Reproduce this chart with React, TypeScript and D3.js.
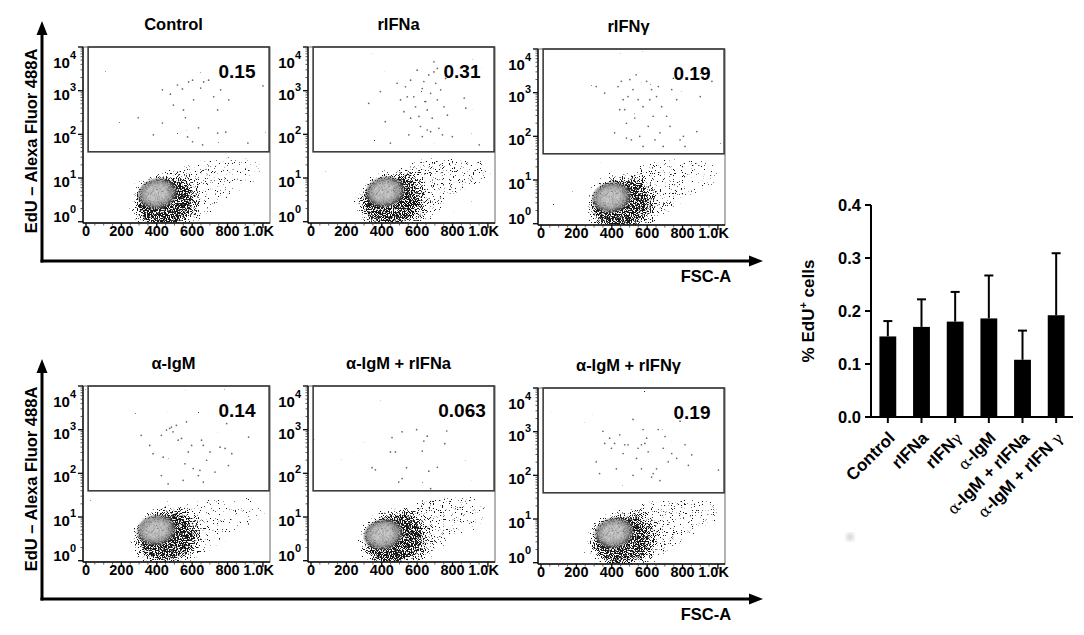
import React from 'react';
import * as d3 from 'd3';

// ---- flow panels ----
const panelTitles = ['Control', 'rIFNa', 'rIFNγ', 'α-IgM', 'α-IgM + rIFNa', 'α-IgM + rIFNγ'];
const gatePercents = ['0.15', '0.31', '0.19', '0.14', '0.063', '0.19'];
const fscTicks = [0, 200, 400, 600, 800, 1000];
const fscTickLabels = ['0', '200', '400', '600', '800', '1.0K'];
const decades = [0, 1, 2, 3, 4];

// gated (EdU+) events, [FSC-A, log10 EdU]
const gatedControl: [number, number][] = [
  [295, 2.38], [381, 1.99], [432, 3.02], [432, 2.26], [477, 2.92], [494, 2.67], [517, 3.13],
  [545, 3.04], [551, 2.56], [562, 2.38], [574, 1.94], [580, 3.2], [602, 3.24], [608, 2.79],
  [602, 1.83], [648, 3.06], [659, 1.76], [665, 3.2], [693, 3.24], [722, 2.86], [744, 2.56],
  [761, 3.02], [790, 2.05], [807, 2.79], [744, 2.03], [915, 1.8], [1000, 3.11], [636, 2.15],
];
const gatedIFNa: [number, number][] = [
  [326, 2.71], [392, 2.98], [420, 2.29], [449, 1.8], [487, 3.17], [506, 2.79], [525, 2.52],
  [534, 3.09], [553, 1.99], [563, 3.24], [581, 2.86], [591, 2.63], [600, 3.47], [610, 2.41],
  [619, 2.18], [629, 3.05], [638, 3.21], [648, 2.75], [657, 2.56], [657, 2.1], [666, 3.36],
  [676, 2.94], [685, 2.37], [695, 3.43], [695, 3.66], [705, 3.17], [714, 2.79], [723, 2.14],
  [733, 3.02], [743, 1.99], [752, 2.63], [761, 3.28], [771, 2.44], [799, 1.95], [866, 2.83],
  [875, 2.6], [951, 1.76], [629, 1.95], [676, 2.06], [563, 2.37], [544, 2.86], [714, 3.51],
];
const gatedIFNg: [number, number][] = [
  [312, 3.14], [360, 2.99], [416, 2.08], [435, 3.14], [454, 3.26], [464, 2.84], [473, 2.61],
  [483, 2.3], [492, 2.91], [502, 3.3], [520, 3.07], [530, 2.42], [538, 3.41], [549, 2.84],
  [558, 2.0], [577, 2.68], [597, 3.26], [606, 2.23], [615, 2.84], [625, 3.07], [634, 2.46],
  [644, 1.92], [653, 2.91], [663, 3.14], [672, 2.08], [682, 2.68], [691, 1.77], [710, 2.46],
  [729, 2.23], [739, 3.07], [748, 3.33], [767, 2.84], [786, 1.92], [805, 2.0], [814, 1.77],
  [881, 2.11], [900, 2.91], [966, 3.26], [511, 1.92], [577, 1.77], [445, 2.61], [483, 1.96],
];
const gatedIgM: [number, number][] = [
  [312, 2.87], [360, 2.64], [379, 2.45], [426, 2.87], [436, 2.37], [455, 2.99], [473, 3.03],
  [483, 3.06], [492, 2.95], [511, 3.1], [521, 2.76], [540, 2.8], [559, 2.22], [568, 3.18],
  [578, 2.49], [597, 2.64], [606, 2.11], [635, 1.95], [653, 2.76], [663, 2.64], [682, 2.3],
  [701, 2.49], [729, 2.03], [758, 2.6], [786, 2.57], [795, 3.14], [824, 2.45], [805, 2.18],
  [919, 2.83], [426, 1.95], [464, 1.76], [549, 1.84], [663, 1.8], [644, 2.07],
];
const gatedIgMIFNa: [number, number][] = [
  [345, 2.13], [364, 2.08], [449, 2.49], [477, 2.49], [458, 2.82], [515, 2.95], [496, 1.8],
  [515, 1.88], [540, 2.13], [597, 3.0], [638, 2.74], [657, 2.85], [629, 2.51], [666, 2.05],
  [714, 2.14], [756, 2.68], [767, 2.97], [676, 1.65],
];
const gatedIgMIFNg: [number, number][] = [
  [312, 2.31], [331, 2.04], [350, 3.01], [360, 2.73], [388, 2.85], [416, 2.73], [445, 2.93],
  [473, 2.7], [492, 2.7], [520, 3.28], [520, 2.0], [549, 2.62], [568, 2.7], [577, 3.05],
  [587, 2.73], [597, 2.85], [606, 2.54], [625, 1.96], [634, 2.04], [653, 2.15], [663, 3.05],
  [672, 1.88], [691, 2.62], [701, 2.89], [719, 2.31], [739, 2.5], [767, 2.39], [786, 3.24],
  [814, 2.7], [833, 2.23], [852, 2.47], [1003, 2.12], [398, 2.62], [464, 2.5], [540, 2.39],
  [568, 2.15], [426, 2.15],
];
const gatedEvents = [gatedControl, gatedIFNa, gatedIFNg, gatedIgM, gatedIgMIFNa, gatedIgMIFNg];

// main (EdU-) population
const clusterFsc = [445, 450, 450, 455, 465, 455];
const clusterLog = [0.45, 0.48, 0.45, 0.55, 0.5, 0.52];
const coreFsc = [405, 420, 400, 400, 410, 415];
const coreLog = [0.64, 0.68, 0.6, 0.7, 0.6, 0.68];
const tailDensity = [0.46, 0.52, 0.5, 0.42, 0.55, 0.5];
const tailOutline: [number, number][] = [
  [520, 1.22], [640, 1.42], [800, 1.5], [960, 1.42], [1010, 1.2], [990, 0.9],
  [850, 0.65], [720, 0.25], [640, -0.05], [560, 0.1],
];

// ---- bar chart ----
const barCategories = ['Control', 'rIFNa', 'rIFNγ', 'α-IgM', 'α-IgM + rIFNa', 'α-IgM + rIFN γ'];
const barMeans = [0.152, 0.17, 0.18, 0.186, 0.108, 0.192];
const barUpper = [0.181, 0.222, 0.236, 0.267, 0.163, 0.309];
const barTicks = [0, 0.1, 0.2, 0.3, 0.4];

const FONT = '"Liberation Sans", Arial, Helvetica, sans-serif';
const colX = [83, 308, 538];
const rowY = [47, 386];
const colDy = [0, 0, 2];
const frameW = 187;
const frameH = 176;

const xs = d3.scaleLinear().domain([-17, 1040]).range([0, frameW]);
const ys = d3.scaleLinear().domain([-0.03, 4]).range([frameH, 0]);

const FlowPanel: React.FC<{ i: number }> = ({ i }) => {
  const col = i % 3;
  const row = Math.floor(i / 3);
  const ox = colX[col];
  const oy = rowY[row] + colDy[col];

  const cx = xs(clusterFsc[i]);
  const cy = ys(clusterLog[i]);
  const rx = xs(158) - xs(0);
  const ry = ys(0) - ys(0.56);
  const kx = xs(coreFsc[i]);
  const ky = ys(coreLog[i]);
  const tail = d3.line<[number, number]>()
    .x(d => xs(d[0]))
    .y(d => ys(d[1]))
    .curve(d3.curveCatmullRomClosed)(tailOutline) || '';

  const minorY: number[] = [];
  for (let d = 0; d < 4; d++) for (let k = 2; k < 10; k++) minorY.push(d + Math.log10(k));
  const minorX = d3.range(50, 1050, 50).filter(v => v % 200 !== 0);

  return (
    <g transform={`translate(${ox},${oy})`}>
      <text x={frameW / 2 - 3} y={-17} textAnchor="middle" fontSize={16.5} fontWeight="bold" fontFamily={FONT}>
        {panelTitles[i]}
      </text>
      <g clipPath="url(#frameClip)">
        <g filter={`url(#stipple${i})`}>
          <path d={tail} fill="url(#tailFade)" opacity={tailDensity[i]} />
          <ellipse cx={cx} cy={cy} rx={rx * 1.32} ry={ry * 1.3} fill="#000" opacity={0.48}
            transform={`rotate(-18,${cx},${cy})`} />
          <ellipse cx={cx} cy={cy} rx={rx} ry={ry} fill="#000" opacity={0.93}
            transform={`rotate(-18,${cx},${cy})`} />
        </g>
        <ellipse cx={kx} cy={ky} rx={xs(118) - xs(0)} ry={ys(0) - ys(0.37)} fill="url(#coreGrad)"
          filter="url(#coreGrain)" transform={`rotate(-12,${kx},${ky})`} />
        {gatedEvents[i].map((d, j) => (
          <circle key={j} cx={xs(d[0])} cy={ys(d[1])} r={0.85} fill="#666" />
        ))}
      </g>
      {/* frame & gate */}
      <rect x={0} y={0} width={frameW} height={frameH} fill="none" stroke="#666" strokeWidth={1} />
      <rect x={xs(12)} y={ys(4)} width={xs(1035) - xs(12)} height={ys(1.6) - ys(4)}
        fill="none" stroke="#3c3c3c" strokeWidth={1.6} />
      <text x={154} y={31} textAnchor="middle" fontSize={19} fontWeight="bold" fontFamily={FONT}>
        {gatePercents[i]}
      </text>
      {/* y axis */}
      <line x1={0} x2={0} y1={0} y2={frameH} stroke="#111" strokeWidth={1.4} />
      {minorY.map((v, j) => (
        <line key={j} x1={-2.5} x2={0} y1={ys(v)} y2={ys(v)} stroke="#333" strokeWidth={0.8} />
      ))}
      {decades.map(d => (
        <g key={d}>
          <line x1={-5} x2={0} y1={ys(d)} y2={ys(d)} stroke="#111" strokeWidth={1.4} />
          <text x={-7} y={Math.min(Math.max(ys(d) + 9, 21), 175)} textAnchor="end"
            fontSize={15} fontWeight="bold" fontFamily={FONT}>
            10<tspan dy={-9} fontSize={11}>{d}</tspan>
          </text>
        </g>
      ))}
      {/* x axis */}
      <line x1={0} x2={frameW} y1={frameH} y2={frameH} stroke="#111" strokeWidth={1.4} />
      {minorX.map(v => (
        <line key={v} x1={xs(v)} x2={xs(v)} y1={frameH} y2={frameH + 2.5} stroke="#333" strokeWidth={0.8} />
      ))}
      {fscTicks.map((v, j) => (
        <g key={v}>
          <line x1={xs(v)} x2={xs(v)} y1={frameH} y2={frameH + 5} stroke="#111" strokeWidth={1.4} />
          <text x={j === fscTicks.length - 1 ? xs(v) + 11 : xs(v)} y={frameH + 13}
            textAnchor={j === fscTicks.length - 1 ? 'end' : 'middle'}
            fontSize={14.5} fontWeight="bold" fontFamily={FONT}>
            {fscTickLabels[j]}
          </text>
        </g>
      ))}
    </g>
  );
};

const BigAxes: React.FC<{ row: number }> = ({ row }) => {
  const dy = row * 338;
  const baseY = 261 + dy;
  const tipY = 21 + dy;
  return (
    <g>
      <line x1={42} x2={42} y1={baseY + 1.5} y2={tipY + 12} stroke="#000" strokeWidth={3} />
      <path d={`M${42},${tipY} L${36.5},${tipY + 14} L${47.5},${tipY + 14} Z`} fill="#000" />
      <line x1={40.5} x2={751} y1={baseY} y2={baseY} stroke="#000" strokeWidth={3} />
      <path d={`M763,${baseY} L749,${baseY - 5.5} L749,${baseY + 5.5} Z`} fill="#000" />
      <text transform={`translate(37,${141 + dy}) rotate(-90)`} textAnchor="middle"
        fontSize={16.5} fontWeight="bold" fontFamily={FONT}>
        EdU – Alexa Fluor 488A
      </text>
      <text x={706} y={282 + dy} textAnchor="middle" fontSize={16.5} fontWeight="bold" fontFamily={FONT}>
        FSC-A
      </text>
    </g>
  );
};

const greekSplit = (s: string) => s.split(/([αγ])/).filter(p => p.length > 0);

const BarChart: React.FC = () => {
  const y = d3.scaleLinear().domain([0, 0.4]).range([417, 205]);
  const x = d3.scaleBand().domain(barCategories).range([871, 1073]).paddingInner(0.5).paddingOuter(0.25);
  const bw = x.bandwidth();
  return (
    <g fontFamily={FONT}>
      {barCategories.map((c, i) => {
        const x0 = x(c) || 0;
        const mid = x0 + bw / 2;
        return (
          <g key={c}>
            <line x1={mid} x2={mid} y1={y(barMeans[i])} y2={y(barUpper[i])} stroke="#000" strokeWidth={2} />
            <line x1={mid - 4.5} x2={mid + 4.5} y1={y(barUpper[i])} y2={y(barUpper[i])} stroke="#000" strokeWidth={2} />
            <rect x={x0} y={y(barMeans[i])} width={bw} height={y(0) - y(barMeans[i])} fill="#000" />
            <line x1={mid} x2={mid} y1={y(0)} y2={y(0) + 6} stroke="#000" strokeWidth={2} />
            <text transform={`translate(${mid + 8},${y(0) + 22}) rotate(-45)`} textAnchor="end"
              fontSize={17} fontWeight="bold">
              {greekSplit(c).map((p, j) =>
                p === 'α' || p === 'γ' ? (
                  <tspan key={j} fontFamily='"DejaVu Serif", serif' fontWeight="normal" fontSize={15.5}>{p}</tspan>
                ) : (
                  <tspan key={j}>{p}</tspan>
                ))}
            </text>
          </g>
        );
      })}
      <line x1={871} x2={871} y1={y(0) + 1} y2={y(0.4)} stroke="#000" strokeWidth={2} />
      <line x1={870} x2={1073} y1={y(0)} y2={y(0)} stroke="#000" strokeWidth={2} />
      {barTicks.map(t => (
        <g key={t}>
          <line x1={865} x2={871} y1={y(t)} y2={y(t)} stroke="#000" strokeWidth={2} />
          <text x={861} y={y(t) + 6} textAnchor="end" fontSize={16.5} fontWeight="bold">
            {t.toFixed(1)}
          </text>
        </g>
      ))}
      <text transform="translate(814,311) rotate(-90)" textAnchor="middle" fontSize={17} fontWeight="bold">
        % EdU<tspan dy={-7} fontSize={11}>+</tspan><tspan dy={7}> cells</tspan>
      </text>
    </g>
  );
};

const App: React.FC = () => {
  return (
    <svg width={1084} height={635} viewBox="0 0 1084 635"
      style={{ position: 'absolute', left: 0, top: 0, background: '#fff', display: 'block' }}>
      <defs>
        <clipPath id="frameClip">
          <rect x={0} y={0} width={frameW} height={frameH} />
        </clipPath>
        <linearGradient id="tailFade" x1="0" x2="1" y1="0" y2="0">
          <stop offset="0" stopColor="#000" stopOpacity={1} />
          <stop offset="1" stopColor="#000" stopOpacity={0.72} />
        </linearGradient>
        <radialGradient id="coreGrad" cx="0.5" cy="0.5" r="0.5" fx="0.45" fy="0.45">
          <stop offset="0" stopColor="#cdcdcd" stopOpacity={1} />
          <stop offset="0.45" stopColor="#c4c4c4" stopOpacity={1} />
          <stop offset="0.7" stopColor="#a3a3a3" stopOpacity={0.92} />
          <stop offset="0.88" stopColor="#606060" stopOpacity={0.55} />
          <stop offset="1" stopColor="#3a3a3a" stopOpacity={0} />
        </radialGradient>
        <filter id="coreGrain" x="-10%" y="-10%" width="120%" height="120%" colorInterpolationFilters="sRGB">
          <feTurbulence type="fractalNoise" baseFrequency={1.1} numOctaves={1} seed={11} result="n" />
          <feColorMatrix in="n" type="matrix"
            values="0 0 0 0 0.3  0 0 0 0 0.3  0 0 0 0 0.3  3 0 0 0 -1.5" result="spk" />
          <feComposite in="spk" in2="SourceAlpha" operator="in" result="spkIn" />
          <feMerge>
            <feMergeNode in="SourceGraphic" />
            <feMergeNode in="spkIn" />
          </feMerge>
        </filter>
        {panelTitles.map((_, i) => (
          <filter key={i} id={`stipple${i}`} filterUnits="userSpaceOnUse" x={-50} y={-50} width={300} height={300}
            colorInterpolationFilters="sRGB">
            <feGaussianBlur in="SourceAlpha" stdDeviation={2.5} result="soft" />
            <feTurbulence type="fractalNoise" baseFrequency={0.9} numOctaves={2} seed={i * 7 + 3} result="noise" />
            <feColorMatrix in="noise" type="matrix"
              values="0 0 0 0 0  0 0 0 0 0  0 0 0 0 0  1 0 0 0 0" result="noiseA" />
            <feComposite in="soft" in2="noiseA" operator="arithmetic" k1={0} k2={0.45} k3={1} k4={-0.85} result="sum" />
            <feComponentTransfer in="sum" result="dots">
              <feFuncA type="linear" slope={14} intercept={0} />
            </feComponentTransfer>
            <feFlood floodColor="#151515" result="ink" />
            <feComposite in="ink" in2="dots" operator="in" />
          </filter>
        ))}
        <filter id="smudge"><feGaussianBlur stdDeviation={2} /></filter>
      </defs>
      <rect x={0} y={0} width={1084} height={635} fill="#fff" />
      <BigAxes row={0} />
      <BigAxes row={1} />
      {panelTitles.map((_, i) => <FlowPanel key={i} i={i} />)}
      <BarChart />
      <circle cx={850} cy={537} r={4} fill="#d6d6d6" filter="url(#smudge)" />
    </svg>
  );
};

export default App;
